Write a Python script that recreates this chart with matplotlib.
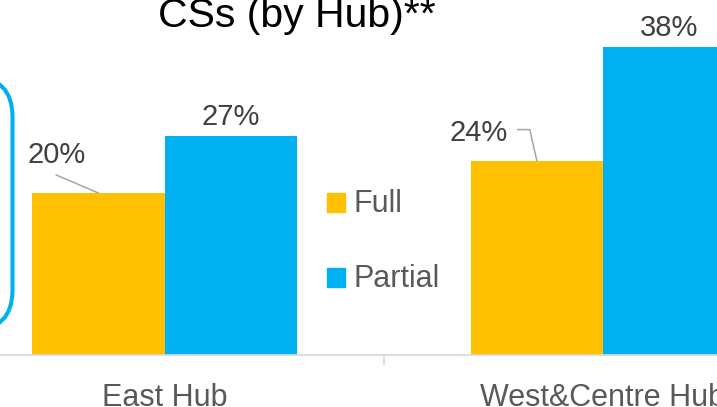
import matplotlib.pyplot as plt
import numpy as np
from matplotlib.patches import FancyBboxPatch, Rectangle
from matplotlib.lines import Line2D
from matplotlib.transforms import IdentityTransform

plt.rcParams['font.family'] = ['Liberation Sans', 'DejaVu Sans']

# data
hubs = ['East Hub', 'West&Centre Hub']
series = ['Full', 'Partial']
full = [0.20, 0.24]
partial = [0.27, 0.38]
full_lbl = ['20%', '24%']
partial_lbl = ['27%', '38%']

ORANGE = '#FFC000'
BLUE = '#00B0F0'
W, H = 717, 407

fig = plt.figure(figsize=(W / 100, H / 100), dpi=100)
ax = fig.add_axes([0, 52 / H, 1, 355 / H])

x = np.arange(len(hubs))
w = 0.302
b1 = ax.bar(x - w / 2, full, w, color=ORANGE, label=series[0])
b2 = ax.bar(x + w / 2, partial, w, color=BLUE, label=series[1])

ax.set_xlim(-164.5 / 438.5, (W - 164.5) / 438.5)
ax.set_ylim(0, 355 / 8.1 / 100)

for s in ['top', 'right', 'left']:
    ax.spines[s].set_visible(False)
ax.spines['bottom'].set_color('#D9D9D9')
ax.spines['bottom'].set_linewidth(1.2)
ax.set_yticks([])
ax.set_xticks(x)
ax.set_xticklabels(hubs, fontsize=22, color='#595959')
ax.tick_params(axis='x', which='major', length=0, pad=20)
ax.set_xticks([0.5], minor=True)
ax.tick_params(axis='x', which='minor', length=7, width=1.2, color='#D9D9D9')

# data labels on partial bars
for xi, v, t in zip(x, partial, partial_lbl):
    ax.annotate(t, (xi + w / 2, v), xytext=(0, 11), textcoords='offset pixels',
                ha='center', va='baseline', fontsize=21, color='#404040')

# full labels with leader lines
txt_off = [(-42, 30), (-58, 20)]
lead = [[(0, 0), (-42, 18)], [(0, 0), (-7, 31), (-19, 31)]]
fig.canvas.draw()
for xi, v, t, (dx, dy), pts in zip(x, full, full_lbl, txt_off, lead):
    ax.annotate(t, (xi - w / 2, v), xytext=(dx, dy), textcoords='offset pixels',
                ha='center', va='baseline', fontsize=21, color='#404040')
    px, py = ax.transData.transform((xi - w / 2, v))
    fig.add_artist(Line2D([px + p[0] for p in pts], [py + p[1] for p in pts],
                          color='#A6A6A6', lw=1.1, transform=IdentityTransform()))

# legend (drawn by hand: square sits on the text baseline)
for (name, bars), base in zip(zip(series, [b1, b2]), [212, 287]):
    fig.add_artist(Rectangle((327, H - base), 18, 19, color=bars.patches[0].get_facecolor(),
                             transform=IdentityTransform()))
    fig.text(353 / W, 1 - base / H, name, ha='left', va='baseline',
             fontsize=22, color='#595959')

# title (cut off at top)
fig.text(297 / W, 1 - 27 / H, 'CSs (by Hub)**', ha='center', va='baseline',
         fontsize=29.5, color='black')

# rounded box on the left edge
fig.add_artist(FancyBboxPatch((-300, H - 330), 312.5, 253,
                              boxstyle='round,pad=0,rounding_size=40',
                              fc='none', ec=BLUE, lw=2.9, transform=IdentityTransform()))

fig.savefig('out.png', dpi=100)
